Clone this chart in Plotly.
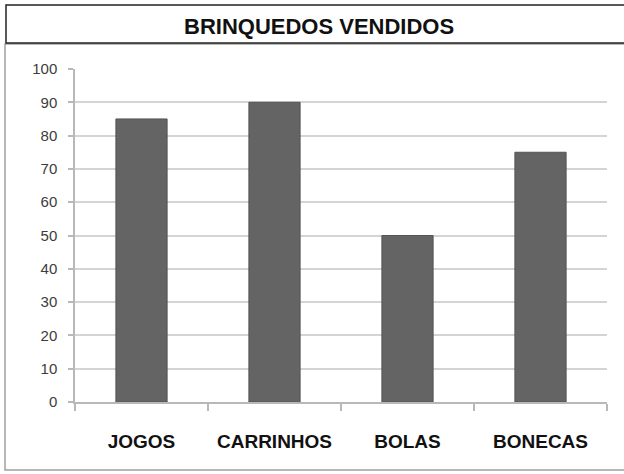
import plotly.graph_objects as go

categories = ["JOGOS", "CARRINHOS", "BOLAS", "BONECAS"]
values = [85, 90, 50, 75]
y_ticks = [0, 10, 20, 30, 40, 50, 60, 70, 80, 90, 100]
title_text = "BRINQUEDOS VENDIDOS"

W, H = 624, 474
L, R, T, B = 75, 607, 69, 402  # plot area in pixels


def px(x):
    return (x - L) / (R - L)


def py(y):
    return (B - y) / (B - T)


fig = go.Figure(
    go.Bar(
        x=categories,
        y=values,
        marker=dict(color="#646464", line=dict(color="#555555", width=1)),
        width=0.385,
    )
)

fig.update_layout(
    width=W,
    height=H,
    margin=dict(l=L, r=W - R, t=T, b=H - B),
    paper_bgcolor="white",
    plot_bgcolor="white",
    showlegend=False,
    xaxis=dict(
        type="category",
        tickson="boundaries",
        ticks="outside",
        ticklen=7,
        tickcolor="#b8b8b8",
        tickwidth=1.5,
        showline=True,
        linecolor="#b8b8b8",
        linewidth=1.5,
        showgrid=False,
        tickfont=dict(family="Liberation Sans", size=19, color="#111111", weight="bold"),
        ticklabelstandoff=21,
    ),
    yaxis=dict(
        range=[0, 100],
        tickvals=y_ticks,
        ticks="outside",
        ticklen=5,
        tickcolor="#b8b8b8",
        tickwidth=1.5,
        showline=True,
        linecolor="#b8b8b8",
        linewidth=1.5,
        showgrid=True,
        gridcolor="#d4d4d4",
        gridwidth=2,
        zeroline=False,
        tickfont=dict(family="Liberation Sans", size=15, color="#3c3c3c"),
        ticklabelstandoff=8,
    ),
    shapes=[
        dict(type="rect", xref="paper", yref="paper",
             x0=px(5), x1=px(640), y0=py(470), y1=py(44),
             line=dict(color="#a0a0a0", width=1.5), fillcolor="rgba(0,0,0,0)", layer="below"),
        dict(type="rect", xref="paper", yref="paper",
             x0=px(6), x1=px(640), y0=py(43), y1=py(5),
             line=dict(color="#222222", width=1.5), fillcolor="white"),
    ],
    annotations=[
        dict(text=title_text, xref="paper", yref="paper",
             x=px(319), y=py(27), xanchor="center", yanchor="middle",
             showarrow=False,
             font=dict(family="Liberation Sans", size=22, color="#111111", weight="bold")),
    ],
)

fig.write_html(
    "out.html",
    config={"displayModeBar": False},
    post_script="document.body.style.margin='0';document.body.style.overflow='hidden';",
)
